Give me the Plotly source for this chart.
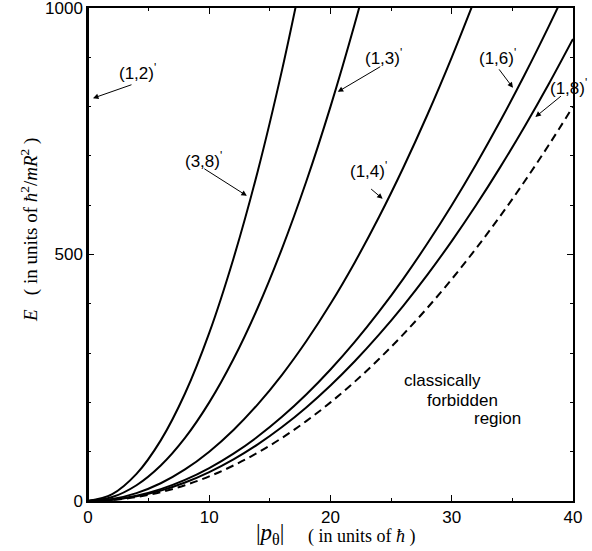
import plotly.graph_objects as go

# ---- data ----
p_grid = [0, 2, 4, 6, 8, 10, 12, 14, 16, 18, 20, 22, 24, 26, 28, 30, 32, 34, 36, 38, 40]

x_38 = [0, 2, 4, 6, 8, 10, 12, 14, 16, 18]
E_38 = [0, 14, 55, 123, 218, 341, 492, 669, 874, 1106]

x_13 = [0, 2, 4, 6, 8, 10, 12, 14, 16, 18, 20, 22, 24]
E_13 = [0, 8, 32, 72, 128, 200, 288, 392, 512, 648, 800, 968, 1152]

x_14 = [0, 2, 4, 6, 8, 10, 12, 14, 16, 18, 20, 22, 24, 26, 28, 30, 32]
E_14 = [0, 4, 16, 36, 64, 100, 144, 196, 256, 324, 400, 484, 576, 676, 784, 900, 1024]

E_16 = [0, 2.7, 10.7, 24, 42.7, 66.7, 96, 130.7, 170.7, 216, 266.7, 322.7, 384,
        450.7, 522.7, 600, 682.7, 770.7, 864, 962.7, 1066.7]
E_18 = [0, 2.3, 9.4, 21.1, 37.5, 58.6, 84.4, 114.8, 150.0, 189.8, 234.3, 283.5,
        337.4, 396.0, 459.3, 527.2, 599.8, 677.2, 759.2, 845.9, 937.3]
E_boundary = [0, 2, 8, 18, 32, 50, 72, 98, 128, 162, 200, 242, 288, 338, 392,
              450, 512, 578, 648, 722, 800]

x_12 = [0, 0]
E_12 = [0, 1000]

x_ticks = [0, 10, 20, 30, 40]
y_ticks = [0, 500, 1000]

# label text and tip of arrow (data)
labels = ["(1,2)", "(3,8)", "(1,3)", "(1,4)", "(1,6)", "(1,8)"]
tip_x = [0.41, 13.1, 20.6, 24.3, 35.05, 36.9]
tip_E = [817, 619, 830, 613, 838, 779]

# ---- figure ----
W, H = 592, 551
L, R, T, B = 88, 19, 8, 50
pw, ph = W - L - R, H - T - B


def px2paper(px, py):
    return (px - L) / pw, (H - B - py) / ph


fig = go.Figure()
line = dict(color="black", width=2)
fig.add_trace(go.Scatter(x=x_12, y=E_12, mode="lines", line=line))
fig.add_trace(go.Scatter(x=x_38, y=E_38, mode="lines", line=dict(line, shape="spline")))
fig.add_trace(go.Scatter(x=x_13, y=E_13, mode="lines", line=dict(line, shape="spline")))
fig.add_trace(go.Scatter(x=x_14, y=E_14, mode="lines", line=dict(line, shape="spline")))
fig.add_trace(go.Scatter(x=p_grid, y=E_16, mode="lines", line=dict(line, shape="spline")))
fig.add_trace(go.Scatter(x=p_grid, y=E_18, mode="lines", line=dict(line, shape="spline")))
fig.add_trace(go.Scatter(x=p_grid, y=E_boundary, mode="lines",
                         line=dict(color="black", width=2, dash="8px,5px", shape="spline")))

sans = "Liberation Sans, Arial, Helvetica, sans-serif"
serif = "Liberation Serif, Times New Roman, serif"

label_pos = [(137, 72), (203, 160), (383, 57), (368, 170), (497, 57), (568, 87)]
tails = [(40, -14), (-44, -28), (44, -26), (-13, -11), (-15, -20), (27, -22)]

ann = []
for lab, tx, te, (lx, ly), (ax, ay) in zip(labels, tip_x, tip_E, label_pos, tails):
    ann.append(dict(x=tx, y=te, xref="x", yref="y", text="", showarrow=True,
                    ax=ax, ay=ay, arrowhead=2, arrowsize=1.1, arrowwidth=1,
                    arrowcolor="black"))
    px, py = px2paper(lx, ly)
    ann.append(dict(x=px, y=py, xref="paper", yref="paper", text=lab + "<sup>'</sup>",
                    showarrow=False, font=dict(family=sans, size=17, color="black"),
                    xanchor="center", yanchor="middle"))

for txt, (lx, ly) in zip(["classically", "forbidden", "region"],
                         [(402, 380), (425, 400), (472, 418)]):
    px, py = px2paper(lx, ly)
    ann.append(dict(x=px, y=py, xref="paper", yref="paper", text=txt, showarrow=False,
                    font=dict(family=sans, size=17, color="black"),
                    xanchor="left", yanchor="middle"))

# axis titles
px, py = px2paper(270, 534)
ann.append(dict(x=px, y=py, xref="paper", yref="paper", showarrow=False,
                text="|<i>p</i><sub>θ</sub>|",
                font=dict(family=serif, size=23, color="black"),
                xanchor="center", yanchor="middle"))
px, py = px2paper(306, 536)
ann.append(dict(x=px, y=py, xref="paper", yref="paper", showarrow=False,
                text="( in units of <i>ħ</i> )",
                font=dict(family=serif, size=18, color="black"),
                xanchor="left", yanchor="middle"))
px, py = px2paper(30, 230)
ann.append(dict(x=px, y=py, xref="paper", yref="paper", showarrow=False,
                text="<i>E</i>   ( in units of <i>ħ</i><sup>2</sup>/<i>mR</i><sup>2</sup> )",
                font=dict(family=serif, size=19, color="black"), textangle=-90,
                xanchor="center", yanchor="middle"))

axis_common = dict(showgrid=False, zeroline=False, showline=True, linecolor="black",
                   linewidth=1.5, mirror="ticks", ticks="inside", ticklen=6,
                   tickwidth=1, tickcolor="black", automargin=False,
                   ticklabeloverflow="allow",
                   tickfont=dict(family=sans, size=17, color="black"))

fig.update_layout(
    width=W, height=H,
    margin=dict(l=L, r=R, t=T, b=B),
    paper_bgcolor="white", plot_bgcolor="white",
    showlegend=False,
    annotations=ann,
    xaxis=dict(axis_common, range=[0, 40], tickvals=x_ticks,
               minor=dict(ticks="inside", ticklen=3, dtick=5, tickcolor="black")),
    yaxis=dict(axis_common, range=[0, 1000], tickvals=y_ticks,
               minor=dict(ticks="inside", ticklen=3, dtick=100, tickcolor="black")),
)

fig.write_html("out.html", config={"displayModeBar": False},
               post_script="document.body.style.margin='0';document.body.style.overflow='hidden';")
